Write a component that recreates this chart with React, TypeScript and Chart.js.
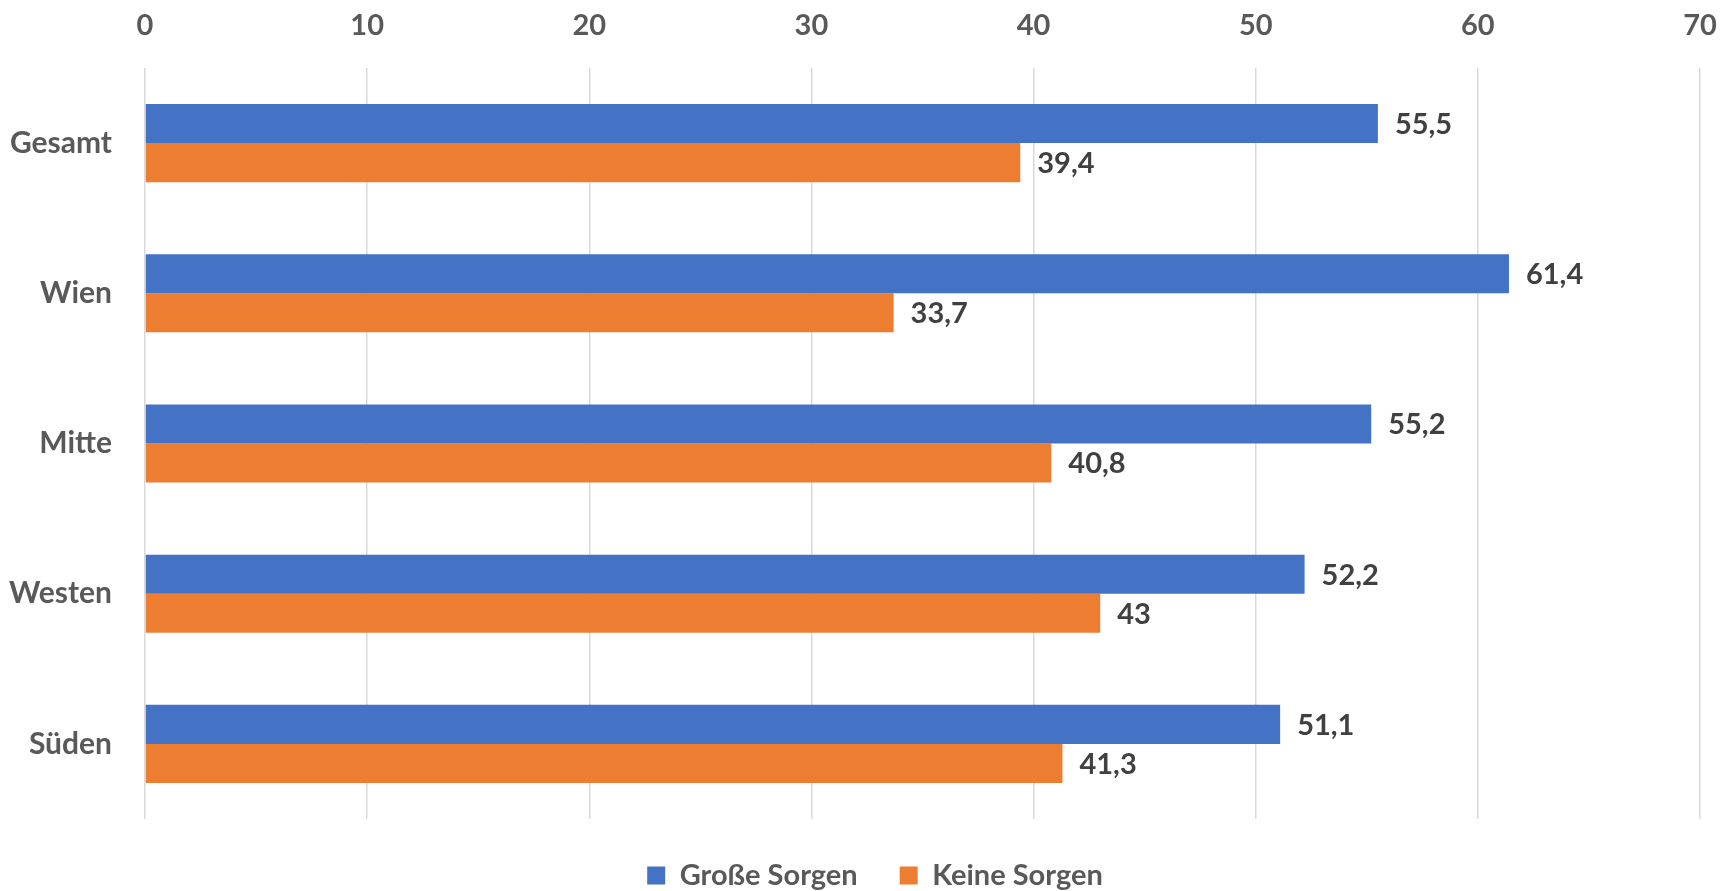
import React, { useEffect, useRef } from "react";
import { Chart, registerables } from "chart.js";

Chart.register(...registerables);

const categories = ["Gesamt", "Wien", "Mitte", "Westen", "Süden"];
const seriesNames = ["Große Sorgen", "Keine Sorgen"];
const groesseSorgen = [55.5, 61.4, 55.2, 52.2, 51.1];
const keineSorgen = [39.4, 33.7, 40.8, 43, 41.3];
const xTicks = [0, 10, 20, 30, 40, 50, 60, 70];

const BLUE = "#4472C4";
const ORANGE = "#ED7D31";
const AXIS_TEXT = "#595959";
const LABEL_TEXT = "#404040";
const FONT = "Lato, 'Open Sans', sans-serif";

const fmt = (v: number) => String(v).replace(".", ",");

const valueLabels = {
  id: "valueLabels",
  afterDatasetsDraw(chart: any) {
    const ctx = chart.ctx;
    ctx.save();
    ctx.font = `bold 29px ${FONT}`;
    ctx.fillStyle = LABEL_TEXT;
    ctx.textAlign = "left";
    ctx.textBaseline = "middle";
    chart.data.datasets.forEach((ds: any, di: number) => {
      const meta = chart.getDatasetMeta(di);
      meta.data.forEach((bar: any, i: number) => {
        ctx.fillText(fmt(ds.data[i]), bar.x + 17, bar.y + 1);
      });
    });
    ctx.restore();
  },
};

const legendShift = {
  id: "legendShift",
  afterLayout(chart: any) {
    const lg = chart.legend;
    if (lg) {
      lg.left += 25;
      lg.right += 25;
    }
  },
};

export default function App() {
  const ref = useRef<HTMLCanvasElement | null>(null);
  useEffect(() => {
    document.body.style.margin = "0";
    const chart = new Chart(ref.current as HTMLCanvasElement, {
      type: "bar",
      data: {
        labels: categories,
        datasets: [
          { label: seriesNames[0], data: groesseSorgen, backgroundColor: BLUE },
          { label: seriesNames[1], data: keineSorgen, backgroundColor: ORANGE },
        ],
      },
      options: {
        indexAxis: "y",
        responsive: false,
        animation: false,
        layout: { padding: { left: 0, right: 21, top: 0, bottom: -9 } },
        datasets: {
          bar: { categoryPercentage: 0.52, barPercentage: 1 },
        },
        scales: {
          x: {
            position: "top",
            min: 0,
            max: 70,
            afterBuildTicks: (scale: any) => {
              scale.ticks = xTicks.map((v) => ({ value: v }));
            },
            afterFit: (scale: any) => {
              scale.height = 68;
              scale.paddingRight = 0;
              scale.paddingLeft = 0;
            },
            grid: { color: "#D9D9D9", lineWidth: 1.5, drawTicks: false },
            border: { display: false },
            ticks: {
              color: AXIS_TEXT,
              font: { family: FONT, size: 29, weight: "bold" },
              padding: 25,
            },
          },
          y: {
            grid: { display: false, drawTicks: false },
            border: { display: false },
            afterFit: (scale: any) => {
              scale.width = 145;
            },
            ticks: {
              color: AXIS_TEXT,
              font: { family: FONT, size: 30, weight: "bold" },
              padding: 33,
            },
          },
        },
        plugins: {
          tooltip: { enabled: false },
          legend: {
            position: "bottom",
            labels: {
              color: AXIS_TEXT,
              font: { family: FONT, size: 29, weight: "bold" },
              boxWidth: 18,
              boxHeight: 18,
              padding: 42,
            },
          },
        },
      },
      plugins: [valueLabels, legendShift],
    });
    return () => chart.destroy();
  }, []);
  return (
    <div style={{ width: 1721, height: 891 }}>
      <canvas ref={ref} width={1721} height={891} style={{ display: "block" }} />
    </div>
  );
}
